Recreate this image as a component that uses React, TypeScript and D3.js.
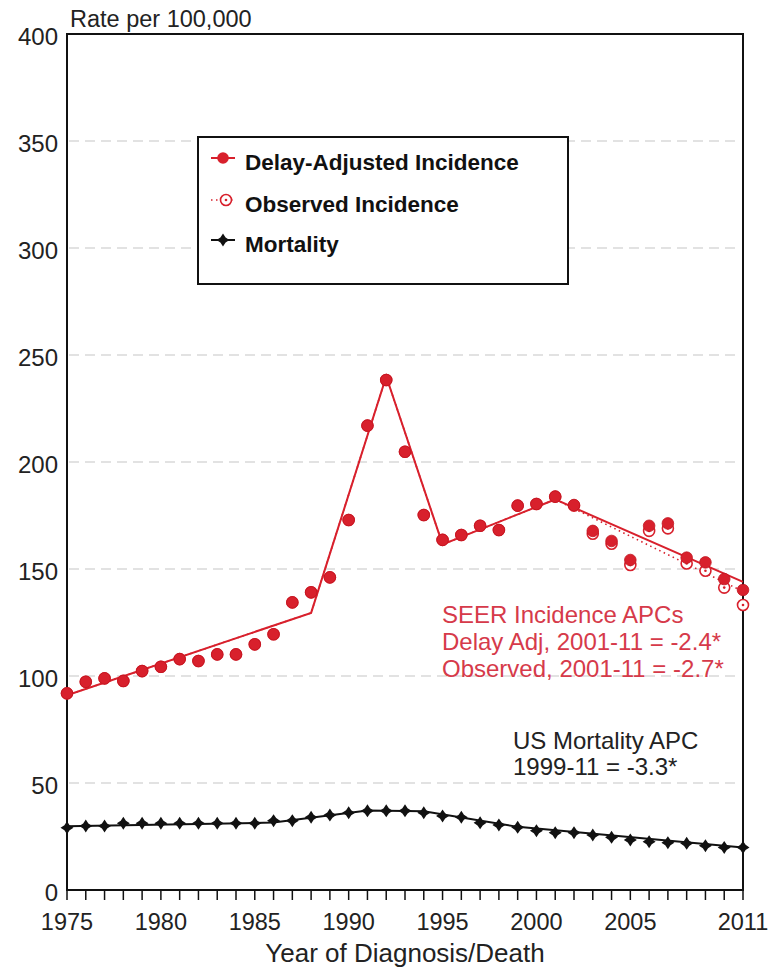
import React from "react";
import * as d3 from "d3";

const years = [1975, 1976, 1977, 1978, 1979, 1980, 1981, 1982, 1983, 1984, 1985, 1986, 1987, 1988, 1989, 1990, 1991, 1992, 1993, 1994, 1995, 1996, 1997, 1998, 1999, 2000, 2001, 2002, 2003, 2004, 2005, 2006, 2007, 2008, 2009, 2010, 2011];

const delayAdjusted = [91.9, 97.3, 98.9, 97.7, 102.3, 104.3, 107.9, 107, 110.1, 110.1, 114.8, 119.5, 134.4, 139.1, 146.1, 172.9, 217, 238.3, 204.8, 175.2, 163.6, 165.9, 170.2, 168.2, 179.6, 180.4, 183.8, 179.9, 167.8, 163.1, 154.2, 170.2, 171.3, 155.3, 153.1, 145.3, 140.2];

const observed = [91.9, 97.3, 98.9, 97.7, 102.3, 104.3, 107.9, 107, 110.1, 110.1, 114.8, 119.5, 134.4, 139.1, 146.1, 172.9, 217, 238.3, 204.8, 175.2, 163.6, 165.9, 170.2, 168.2, 179.6, 180.4, 183.8, 179.6, 166.5, 161.8, 151.9, 167.8, 169, 152.6, 149.2, 141.3, 133.2];

const mortality = [29.1, 29.9, 29.9, 31.2, 31.2, 31.2, 31.2, 31.2, 31.2, 31.2, 31.2, 32.4, 32.4, 34, 35, 36.1, 37, 37, 37, 36.1, 34.6, 34, 31.4, 30.4, 29.3, 27.7, 26.8, 26.8, 25.7, 24.6, 23.4, 22.6, 22.1, 21.8, 20.7, 19.9, 19.9];

const delayTrendYears = [1975, 1988, 1992, 1995, 2001, 2011];
const delayTrendValues = [91, 129.5, 240, 161.5, 182.5, 144];
const observedTrendYears = [1975, 1988, 1992, 1995, 2001, 2011];
const observedTrendValues = [91, 129.5, 240, 161.5, 182.5, 139.5];
const mortTrendYears = [1975, 1986, 1991, 1994, 1999, 2011];
const mortTrendValues = [29.8, 31.5, 37.2, 36.8, 29.5, 19.9];

const yTicks = [0, 50, 100, 150, 200, 250, 300, 350, 400];
const xTickLabels = [1975, 1980, 1985, 1990, 1995, 2000, 2005, 2011];

const legendItems = ["Delay-Adjusted Incidence", "Observed Incidence", "Mortality"];
const seerNote = ["SEER Incidence APCs", "Delay Adj, 2001-11 = -2.4*", "Observed, 2001-11 = -2.7*"];
const mortNote = ["US Mortality APC", "1999-11 = -3.3*"];

const W = 772;
const H = 968;
const M = { left: 67, right: 743, top: 34, bottom: 890 };
const RED = "#d8202c";
const RED_TEXT = "#d63a4a";
const FONT = "'Liberation Sans', Arial, Helvetica, sans-serif";

const starPath = (s: number) =>
  `M0,${-s} L${s * 0.4},${-s * 0.4} L${s},0 L${s * 0.4},${s * 0.4} L0,${s} L${-s * 0.4},${s * 0.4} L${-s},0 L${-s * 0.4},${-s * 0.4} Z`;

export default function App() {
  const x = d3.scaleLinear().domain([1975, 2011]).range([M.left, M.right]);
  const y = d3.scaleLinear().domain([0, 400]).range([M.bottom, M.top]);

  const line = d3
    .line<[number, number]>()
    .x((d) => x(d[0]))
    .y((d) => y(d[1]));

  const delayTrend = line(delayTrendYears.map((yr, i) => [yr, delayTrendValues[i]]));
  const obsTrend = line(observedTrendYears.map((yr, i) => [yr, observedTrendValues[i]]));
  const mortTrend = line(mortTrendYears.map((yr, i) => [yr, mortTrendValues[i]]));

  return (
    <svg
      width={W}
      height={H}
      style={{ position: "absolute", left: 0, top: 0, background: "#fff" }}
      fontFamily={FONT}
    >
      <rect x={0} y={0} width={W} height={H} fill="#fff" />
      {/* grid */}
      {yTicks
        .filter((t) => t > 0 && t < 400)
        .map((t) => (
          <line
            key={"g" + t}
            x1={M.left + 2}
            x2={M.right - 2}
            y1={y(t)}
            y2={y(t)}
            stroke="#d9d9d9"
            strokeWidth={1.3}
            strokeDasharray="10,6"
          />
        ))}
      {/* y tick labels */}
      {yTicks.map((t) => (
        <text key={"yl" + t} x={58} y={y(t) + 11} textAnchor="end" fontSize={24} fill="#222">
          {t}
        </text>
      ))}
      <text x={70} y={27} fontSize={23.5} fill="#222">
        Rate per 100,000
      </text>
      {/* x ticks */}
      {years.map((yr) => (
        <line key={"xt" + yr} x1={x(yr)} x2={x(yr)} y1={M.bottom} y2={M.bottom + 10} stroke="#111" strokeWidth={1.5} />
      ))}
      {xTickLabels.map((yr) => (
        <text key={"xl" + yr} x={x(yr)} y={930} textAnchor="middle" fontSize={23.5} fill="#222">
          {yr}
        </text>
      ))}
      <text x={(M.left + M.right) / 2} y={962} textAnchor="middle" fontSize={26} fill="#222">
        Year of Diagnosis/Death
      </text>

      {/* frame */}
      <rect
        x={M.left}
        y={M.top}
        width={M.right - M.left}
        height={M.bottom - M.top}
        fill="none"
        stroke="#111"
        strokeWidth={2}
      />

      {/* trend lines */}
      <path d={obsTrend || ""} fill="none" stroke={RED} strokeWidth={1.6} strokeDasharray="1.5,3.5" />
      <path d={delayTrend || ""} fill="none" stroke={RED} strokeWidth={2} />
      <path d={mortTrend || ""} fill="none" stroke="#111" strokeWidth={2} />

      {/* observed markers */}
      {years.map((yr, i) => (
        <g key={"o" + yr} transform={`translate(${x(yr)},${y(observed[i])})`}>
          <circle r={5.5} fill="#fff" stroke={RED} strokeWidth={1.6} />
          <circle r={1.3} fill={RED} />
        </g>
      ))}
      {/* delay adjusted markers */}
      {years.map((yr, i) => (
        <circle key={"d" + yr} cx={x(yr)} cy={y(delayAdjusted[i])} r={5.8} fill={RED} stroke="#c0141f" strokeWidth={0.8} />
      ))}
      {/* mortality markers */}
      {years.map((yr, i) => (
        <path key={"m" + yr} d={starPath(6.5)} transform={`translate(${x(yr)},${y(mortality[i])})`} fill="#111" />
      ))}

      {/* legend */}
      <rect x={198} y={137} width={370} height={147} fill="#fff" stroke="#111" strokeWidth={2} />
      <line x1={211} x2={235} y1={158} y2={158} stroke={RED} strokeWidth={2} />
      <circle cx={223} cy={158} r={5.8} fill={RED} />
      <line x1={211} x2={235} y1={200} y2={200} stroke={RED} strokeWidth={1.5} strokeDasharray="1.5,3.5" />
      <circle cx={226} cy={200} r={5.5} fill="#fff" stroke={RED} strokeWidth={1.6} />
      <circle cx={226} cy={200} r={1.3} fill={RED} />
      <line x1={211} x2={235} y1={240} y2={240} stroke="#111" strokeWidth={2} />
      <path d={starPath(6.5)} transform="translate(223,240)" fill="#111" />
      {legendItems.map((t, i) => (
        <text key={t} x={245} y={[170, 212, 252][i]} fontSize={22.5} fontWeight="bold" fill="#111">
          {t}
        </text>
      ))}

      {/* notes */}
      {seerNote.map((t, i) => (
        <text key={t} x={442} y={623 + i * 27} fontSize={24} fill={RED_TEXT}>
          {t}
        </text>
      ))}
      {mortNote.map((t, i) => (
        <text key={t} x={513} y={749 + i * 26} fontSize={24} fill="#222">
          {t}
        </text>
      ))}
    </svg>
  );
}
